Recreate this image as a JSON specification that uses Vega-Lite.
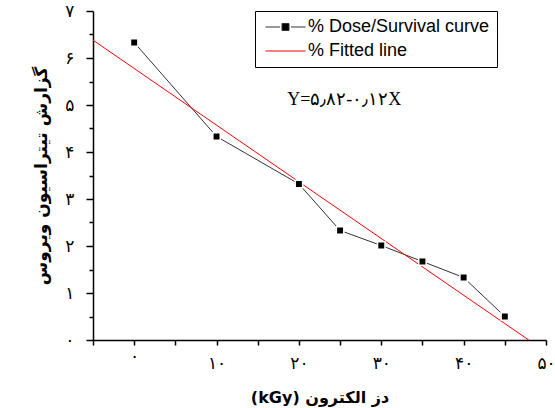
{
  "$schema": "https://vega.github.io/schema/vega-lite/v6.json",
  "autosize": "none",
  "width": 453,
  "height": 329,
  "padding": {"left": 93, "top": 11, "right": 9, "bottom": 68},
  "background": "white",
  "config": {"view": {"stroke": null}},
  "datasets": {
    "series": [
      {"series": "% Dose/Survival curve", "dose": 0, "titer": 6.33},
      {"series": "% Dose/Survival curve", "dose": 10, "titer": 4.33},
      {"series": "% Dose/Survival curve", "dose": 20, "titer": 3.32},
      {"series": "% Dose/Survival curve", "dose": 25, "titer": 2.33},
      {"series": "% Dose/Survival curve", "dose": 30, "titer": 2.01},
      {"series": "% Dose/Survival curve", "dose": 35, "titer": 1.67},
      {"series": "% Dose/Survival curve", "dose": 40, "titer": 1.33},
      {"series": "% Dose/Survival curve", "dose": 45, "titer": 0.5},
      {"series": "% Fitted line", "dose": -5, "titer": 6.38},
      {"series": "% Fitted line", "dose": 47.9, "titer": 0}
    ],
    "notes": [
      {"dose": 25.5, "titer": 5.1, "label": "Y=۵٫۸۲-۰٫۱۲X"}
    ]
  },
  "encoding": {
    "x": {
      "field": "dose", "type": "quantitative",
      "scale": {"domain": [-5, 50], "nice": false, "zero": false},
      "axis": {
        "values": [-5, 0, 5, 10, 15, 20, 25, 30, 35, 40, 45, 50],
        "grid": false, "domainColor": "black", "domainWidth": 1.5,
        "tickColor": "black", "tickWidth": 1.5, "tickSize": 5,
        "labelExpr": "datum.value % 10 === 0 ? ['۰','۱۰','۲۰','۳۰','۴۰','۵۰'][datum.value/10] : ''",
        "labelFont": "DejaVu Sans", "labelFontSize": 17, "labelColor": "black",
        "labelPadding": {"condition": {"test": "datum.value === 0", "value": 3}, "value": 10},
        "labelFlush": false,
        "title": "(kGy) دز الکترون",
        "titleFont": "DejaVu Sans", "titleFontSize": 16, "titleFontWeight": "bold", "titleColor": "black",
        "titlePadding": 18
      }
    },
    "y": {
      "field": "titer", "type": "quantitative",
      "scale": {"domain": [0, 7], "nice": false},
      "axis": {
        "values": [0, 0.5, 1, 1.5, 2, 2.5, 3, 3.5, 4, 4.5, 5, 5.5, 6, 6.5, 7],
        "grid": false, "domainColor": "black", "domainWidth": 1.5,
        "tickColor": "black", "tickWidth": 1.5,
        "tickSize": {"condition": {"test": "datum.value % 1 !== 0", "value": 4}, "value": 7},
        "labelExpr": "datum.value % 1 === 0 ? ['۰','۱','۲','۳','۴','۵','۶','۷'][datum.value] : ''",
        "labelFont": "DejaVu Sans", "labelFontSize": 17, "labelColor": "black",
        "labelPadding": 12,
        "title": "گزارش تیتراسیون ویروس",
        "titleFont": "DejaVu Sans", "titleFontSize": 17, "titleFontWeight": "bold", "titleColor": "black",
        "titlePadding": 14
      }
    }
  },
  "layer": [
    {
      "data": {"name": "series"},
      "mark": {"type": "line", "strokeWidth": 1},
      "encoding": {
        "color": {
          "field": "series", "type": "nominal",
          "scale": {"domain": ["% Dose/Survival curve", "% Fitted line"], "range": ["#333333", "#ff0000"]},
          "legend": {
            "orient": "none", "legendX": 162, "legendY": 0,
            "title": null, "strokeColor": "black", "padding": 7,
            "labelFont": "Liberation Sans", "labelFontSize": 18, "labelColor": "black", "labelLimit": 0,
            "labelOffset": 28, "rowPadding": 6, "symbolSize": 100, "symbolStrokeWidth": 1,
            "encode": {
              "symbols": {
                "update": {
                  "shape": {"signal": "datum.value === '% Fitted line' ? 'M-4,0H4' : 'M-4,0H-1.1M1.1,0H4M-0.7,-0.7H0.7V0.7H-0.7Z'"},
                  "x": {"value": 23.5},
                  "fill": {"signal": "datum.value === '% Fitted line' ? 'transparent' : 'black'"},
                  "stroke": {"signal": "datum.value === '% Fitted line' ? '#800000' : 'black'"},
                  "strokeWidth": {"value": 1}
                }
              }
            }
          }
        }
      }
    },
    {
      "data": {"name": "series"},
      "transform": [{"filter": "datum.series === '% Dose/Survival curve'"}],
      "mark": {"type": "point", "shape": "square", "filled": true, "size": 55, "color": "black", "stroke": "white", "strokeWidth": 1.5, "opacity": 1}
    },
    {
      "data": {"name": "notes"},
      "mark": {"type": "text", "font": "Liberation Serif", "fontSize": 18, "color": "black", "align": "center", "baseline": "middle"},
      "encoding": {"text": {"field": "label"}}
    }
  ]
}
